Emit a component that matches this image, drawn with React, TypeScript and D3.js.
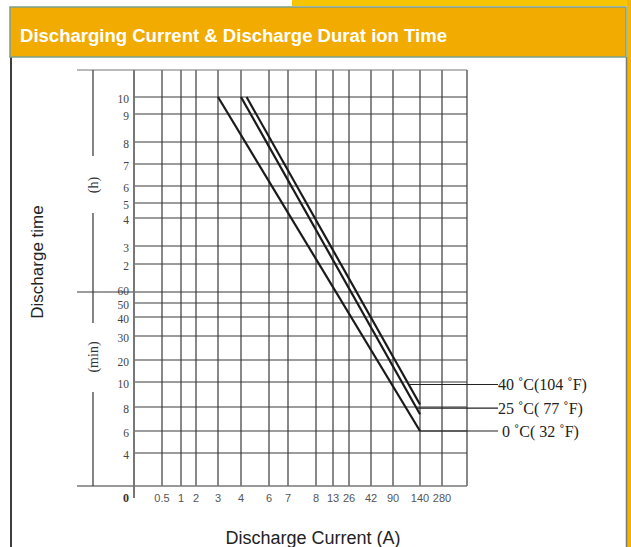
import React from 'react';
import * as d3 from 'd3';

// ---- data ----
const title = 'Discharging Current & Discharge Durat ion Time';
const xTickValues = [0, 0.5, 1, 2, 3, 4, 6, 7, 8, 13, 26, 42, 90, 140, 280];
const xTickLabels = ['0', '0.5', '1', '2', '3', '4', '6', '7', '8', '13', '26', '42', '90', '140', '280'];
const yTickMinutes = [600, 540, 480, 420, 360, 300, 240, 180, 120, 60, 50, 40, 30, 20, 10, 8, 6, 4, 0];
const yTickLabels = ['10', '9', '8', '7', '6', '5', '4', '3', '2', '60', '50', '40', '30', '20', '10', '8', '6', '4', ''];
const seriesNames = ['40 ˚C(104 ˚F)', '25 ˚C( 77 ˚F)', ' 0 ˚C( 32 ˚F)'];
const series40 = [{ current: 4.4, minutes: 600 }, { current: 140, minutes: 8.2 }];
const series25 = [{ current: 4, minutes: 600 }, { current: 140, minutes: 7.4 }];
const series0 = [{ current: 3, minutes: 600 }, { current: 140, minutes: 6 }];
const leaderMinutes = [9.8, 7.9, 6];

// ---- layout (scale ranges) ----
const W = 631;
const H = 547;
const xEdgeValue = 560;
const xRange = [134, 162, 181, 196, 218, 241, 269, 288, 316, 333, 349, 371, 393, 420, 442, 467];
const yTopValue = 720;
const yRange = [70, 97, 114, 142, 164, 186, 203, 218, 246, 264, 292, 303, 317, 336, 360, 382, 407, 431, 453, 486];

const x = d3.scaleLinear().domain([...xTickValues, xEdgeValue]).range(xRange);
const y = d3.scaleLinear().domain([yTopValue, ...yTickMinutes]).range(yRange);

const lineGen = d3
  .line<{ current: number; minutes: number }>()
  .x((d) => x(d.current))
  .y((d) => y(d.minutes));

const allSeries = [series40, series25, series0];

function leaderStart(s: { current: number; minutes: number }[], m: number) {
  const x1 = x(s[0].current), y1 = y(s[0].minutes);
  const x2 = x(s[1].current), y2 = y(s[1].minutes);
  const yy = y(m);
  const t = Math.min(1, (yy - y1) / (y2 - y1));
  return x1 + t * (x2 - x1);
}

export default function App() {
  const left = x(0);
  const right = x(xEdgeValue);
  const top = y(yTopValue);
  const bottom = y(0);
  const divX = 93;
  const hCenter = 185;
  const minCenter = 357;
  const gridColor = '#3a3a3a';

  return (
    <svg
      width={W}
      height={H}
      style={{ position: 'absolute', left: 0, top: 0, background: '#fff' }}
      fontFamily="'Liberation Sans', Arial, sans-serif"
    >
      {/* frame */}
      <rect x={292} y={0} width={339} height={6} fill="#F7C500" />
      <rect x={627} y={0} width={4} height={H} fill="#F5B400" />
      <line x1={11} y1={57} x2={11} y2={H} stroke="#3d3d3d" strokeWidth={2} />
      <line x1={626.5} y1={57} x2={626.5} y2={H} stroke="#7a7a7a" strokeWidth={1.5} />
      <rect x={10} y={7} width={616} height={50} fill="#F2AB00" stroke="#7BA08C" strokeWidth={1.5} />
      <text x={20} y={42} fill="#fff" fontWeight="bold" fontSize={18} textLength={427} lengthAdjust="spacingAndGlyphs">
        {title}
      </text>

      {/* vertical grid lines */}
      {[...xTickValues.slice(1), xEdgeValue].map((v, i) => (
        <line key={'vx' + i} x1={x(v)} x2={x(v)} y1={top} y2={bottom} stroke={gridColor} strokeWidth={1.2} />
      ))}
      {/* horizontal grid lines */}
      {yTickMinutes.slice(0, -1).map((m, i) => (
        <line
          key={'hy' + i}
          x1={m === 60 ? 77 : left}
          x2={right}
          y1={y(m)}
          y2={y(m)}
          stroke={gridColor}
          strokeWidth={1.2}
        />
      ))}
      <line x1={77} x2={right} y1={top} y2={top} stroke="#777" strokeWidth={1.2} />
      <line x1={77} x2={right} y1={bottom} y2={bottom} stroke="#777" strokeWidth={1.6} />
      <line x1={left} x2={left} y1={top} y2={bottom + 12} stroke="#777" strokeWidth={2} />

      {/* unit divider */}
      <line x1={divX} x2={divX} y1={top} y2={hCenter - 29} stroke="#333" strokeWidth={1.2} />
      <line x1={divX} x2={divX} y1={hCenter + 28} y2={minCenter - 34} stroke="#333" strokeWidth={1.2} />
      <line x1={divX} x2={divX} y1={minCenter + 35} y2={bottom} stroke="#333" strokeWidth={1.2} />
      <text
        transform={`translate(${divX},${hCenter}) rotate(-90)`}
        textAnchor="middle"
        dominantBaseline="central"
        fontFamily="'Liberation Serif', serif"
        fontSize={14}
        fill="#333"
      >
        (h)
      </text>
      <text
        transform={`translate(${divX},${minCenter}) rotate(-90)`}
        textAnchor="middle"
        dominantBaseline="central"
        fontFamily="'Liberation Serif', serif"
        fontSize={14}
        fill="#333"
      >
        (min)
      </text>

      {/* y tick labels */}
      {yTickMinutes.map((m, i) => (
        <text
          key={'yl' + i}
          x={129}
          y={y(m) + (m === 60 ? -1.5 : 1.5)}
          textAnchor="end"
          dominantBaseline="central"
          fontFamily="'Liberation Serif', serif"
          fontSize={11.5}
          fill="#444"
        >
          {yTickLabels[i]}
        </text>
      ))}

      {/* x tick labels */}
      {xTickValues.map((v, i) =>
        i === 0 ? (
          <text key={'xl' + i} x={129} y={502} textAnchor="end" fontFamily="'Liberation Serif', serif" fontSize={12} fontWeight="bold" fill="#333">
            {xTickLabels[i]}
          </text>
        ) : (
          <text key={'xl' + i} x={x(v)} y={502} textAnchor="middle" fontSize={11} fill="#555">
            {xTickLabels[i]}
          </text>
        )
      )}

      {/* axis titles */}
      <text transform="translate(37,262) rotate(-90)" textAnchor="middle" dominantBaseline="central" fontSize={17} fill="#222">
        Discharge time
      </text>
      <text x={313} y={544} textAnchor="middle" fontSize={18} fill="#222">
        Discharge Current (A)
      </text>

      {/* series */}
      {allSeries.map((s, i) => (
        <path key={'s' + i} d={lineGen(s) || ''} fill="none" stroke="#1a1a1a" strokeWidth={2.2} />
      ))}

      {/* leaders + labels */}
      {allSeries.map((s, i) => {
        const ly = y(leaderMinutes[i]);
        const sx = leaderStart(s, leaderMinutes[i]);
        return (
          <g key={'lg' + i}>
            <line x1={sx} x2={498} y1={ly} y2={ly} stroke="#222" strokeWidth={1.2} />
            <text
              x={498}
              y={ly}
              dominantBaseline="central"
              fontFamily="'Liberation Serif', serif"
              fontSize={16}
              fill="#222"
              style={{ whiteSpace: 'pre' }}
            >
              {seriesNames[i]}
            </text>
          </g>
        );
      })}
    </svg>
  );
}
